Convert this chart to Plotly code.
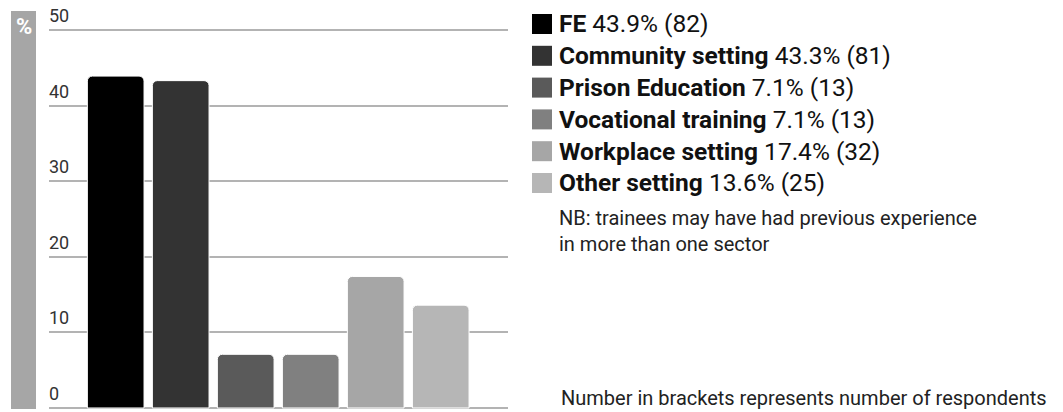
import plotly.graph_objects as go

# ---- data ----
categories = ["FE", "Community setting", "Prison Education", "Vocational training",
              "Workplace setting", "Other setting"]
percent = [43.9, 43.3, 7.1, 7.1, 17.4, 13.6]
respondents = [82, 81, 13, 13, 32, 25]
y_ticks = [0, 10, 20, 30, 40, 50]
bar_colors = ["#000000", "#333333", "#5a5a5a", "#808080", "#a6a6a6", "#b6b6b6"]
note_text = "NB: trainees may have had previous experience<br>in more than one sector"
footer_text = "Number in brackets represents number of respondents"

W, H = 1063, 412
ML, MR, MT, MB = 49, 555, 20, 1
PW, PH = W - ML - MR, H - MT - MB


def px(x):
    return (x - ML) / PW


def py(y):
    return (H - MB - y) / PH


FONT = "Roboto"

fig = go.Figure()
fig.add_trace(go.Bar(
    x=categories, y=percent,
    marker=dict(color=bar_colors, line=dict(color="white", width=1)),
    showlegend=False, hoverinfo="skip",
))

shapes = []
annotations = []

# left grey "%" strip
shapes.append(dict(type="rect", xref="paper", yref="paper",
                   x0=px(11), x1=px(36), y0=py(409), y1=py(11),
                   fillcolor="#a6a6a6", line=dict(width=0), layer="below"))
annotations.append(dict(xref="paper", yref="paper", x=px(23.5), y=py(26.5),
                        text="<b>%</b>", showarrow=False, xanchor="center", yanchor="middle",
                        font=dict(family=FONT, size=22, color="white")))

# y tick labels (above gridlines)
for t in y_ticks:
    annotations.append(dict(xref="paper", yref="y", x=px(47), y=t, text=str(t),
                            showarrow=False, xanchor="left", yanchor="bottom",
                            yshift=2,
                            font=dict(family=FONT, size=18, color="#333333")))

# legend
row0, row_step = 24, 31.8
for i, (c, p, n, col) in enumerate(zip(categories, percent, respondents, bar_colors)):
    yc = row0 + i * row_step
    shapes.append(dict(type="rect", xref="paper", yref="paper",
                       x0=px(532), x1=px(552), y0=py(yc + 10), y1=py(yc - 10),
                       fillcolor=col, line=dict(width=0)))
    annotations.append(dict(xref="paper", yref="paper", x=px(557), y=py(yc),
                            text=f"<b>{c}</b> {p:.1f}% ({n})", showarrow=False,
                            xanchor="left", yanchor="middle",
                            font=dict(family=FONT, size=24.5, color="#111111")))

annotations.append(dict(xref="paper", yref="paper", x=px(557), y=py(204),
                        text=note_text, showarrow=False, xanchor="left", yanchor="top",
                        align="left",
                        font=dict(family=FONT, size=20, color="#222222")))
annotations.append(dict(xref="paper", yref="paper", x=px(559), y=py(412),
                        text=footer_text, showarrow=False, xanchor="left", yanchor="bottom",
                        font=dict(family=FONT, size=20, color="#222222")))

fig.update_layout(
    width=W, height=H,
    margin=dict(l=ML, r=MR, t=MT, b=MB, autoexpand=False),
    paper_bgcolor="white", plot_bgcolor="white",
    bargap=0.128, barcornerradius=5,
    xaxis=dict(range=[-1.026, 6.035], showticklabels=False, showgrid=False,
               zeroline=False, showline=False, ticks=""),
    yaxis=dict(range=[-0.4, 51.32], tickmode="array", tickvals=y_ticks,
               showticklabels=False, showgrid=True, gridcolor="#b3b3b3", gridwidth=1.6,
               zeroline=False, showline=False, ticks=""),
    shapes=shapes, annotations=annotations,
)

fig.write_html("out.html")
